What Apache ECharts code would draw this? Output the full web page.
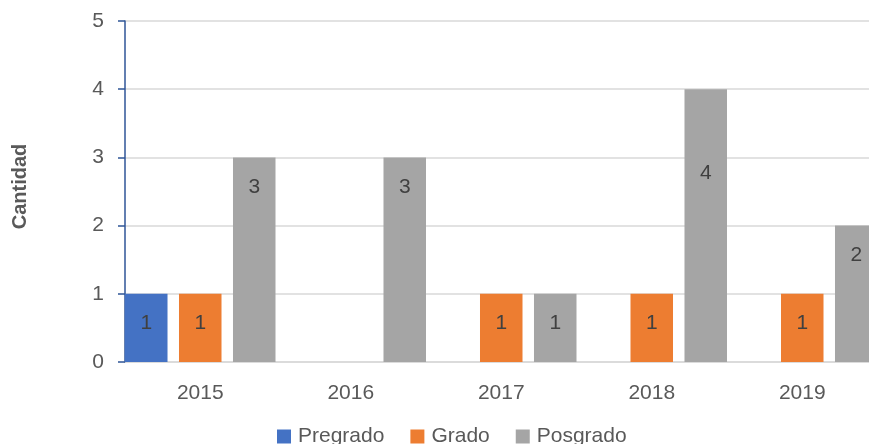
<!DOCTYPE html>
<html>
<head>
<meta charset="utf-8">
<script src="https://cdn.jsdelivr.net/npm/echarts@6/dist/echarts.min.js"></script>
<style>
html,body{margin:0;padding:0;background:#fff;}
#chart{width:869px;height:444px;}
</style>
</head>
<body>
<div id="chart"></div>
<script>
const categories = ['2015', '2016', '2017', '2018', '2019'];
const pregrado = [1, null, null, null, null];
const grado = [1, null, 1, 1, 1];
const posgrado = [3, 3, 1, 4, 2];
const seriesNames = ['Pregrado', 'Grado', 'Posgrado'];
const yTicks = [0, 1, 2, 3, 4, 5];

const FONT = '"Liberation Sans", Arial, sans-serif';
const colors = ['#4472C4', '#ED7D31', '#A5A5A5'];

const chart = echarts.init(document.getElementById('chart'), null, {renderer: 'canvas'});

function mkSeries(name, data, color) {
  return {
    name: name,
    type: 'bar',
    data: data,
    barGap: '27%',
    barCategoryGap: '0%',
    itemStyle: {color: color},
    label: {
      show: true,
      position: 'insideTop',
      distance: 19,
      color: '#404040',
      fontSize: 21,
      fontFamily: FONT
    },
    emphasis: {disabled: true},
    animation: false
  };
}

// In the reference, the label of the tallest bar sits lower inside the bar
const posgradoItems = posgrado.map(function (v, i) {
  return categories[i] === '2018' ? {value: v, label: {offset: [0, 55]}} : v;
});

chart.setOption({
  animation: false,
  color: colors,
  grid: {left: 125, right: -8.5, top: 21, bottom: 82, outerBoundsMode: 'none', containLabel: false},
  legend: {
    bottom: -3,
    left: 277,
    padding: 0,
    itemWidth: 14,
    itemHeight: 14,
    itemGap: 26,
    icon: 'rect',
    textStyle: {color: '#595959', fontSize: 21, fontFamily: FONT, padding: [0, 0, 0, 2]},
    data: seriesNames
  },
  xAxis: {
    type: 'category',
    data: categories,
    axisLine: {lineStyle: {color: '#D9D9D9', width: 1.5}},
    axisTick: {show: false},
    axisLabel: {color: '#595959', fontSize: 21, fontFamily: FONT, margin: 21}
  },
  yAxis: {
    type: 'value',
    min: yTicks[0],
    max: yTicks[yTicks.length - 1],
    interval: 1,
    name: 'Cantidad',
    nameLocation: 'middle',
    nameGap: 95,
    nameRotate: 90,
    nameTextStyle: {color: '#595959', fontSize: 20, fontWeight: 'bold', fontFamily: FONT, padding: [0, 0, 0, 10]},
    axisLine: {show: true, lineStyle: {color: '#2F5597', width: 1.5}},
    axisTick: {show: true, length: 7, lineStyle: {color: '#2F5597', width: 1.5}},
    axisLabel: {color: '#595959', fontSize: 21, fontFamily: FONT, margin: 21},
    splitLine: {lineStyle: {color: '#D9D9D9', width: 1.5}}
  },
  series: [
    mkSeries(seriesNames[0], pregrado, colors[0]),
    mkSeries(seriesNames[1], grado, colors[1]),
    mkSeries(seriesNames[2], posgradoItems, colors[2])
  ]
});
</script>
</body>
</html>
